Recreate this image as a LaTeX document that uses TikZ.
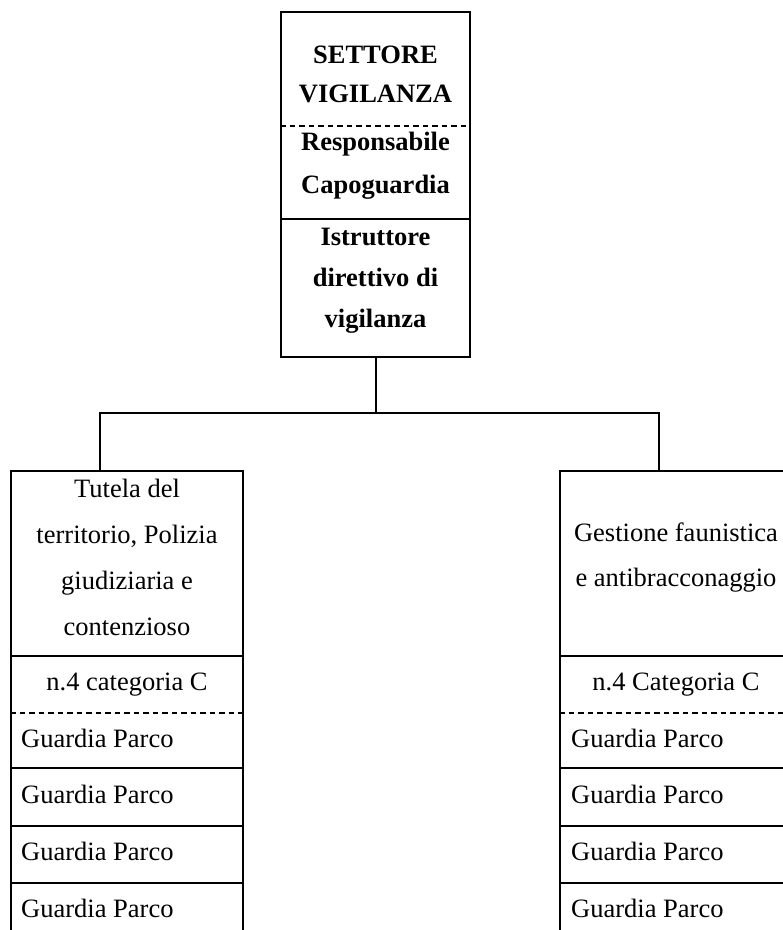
\documentclass[tikz,border=0pt]{standalone}
\usepackage{fontspec}
\setmainfont{Liberation Serif}
\begin{document}
\begin{tikzpicture}[x=1pt,y=-1pt,
  box/.style={draw, line width=2pt, inner sep=0pt},
  sep/.style={line width=2pt},
  dsep/.style={line width=2pt, dash pattern=on 5.5pt off 4pt},
  conn/.style={line width=2pt},
  t/.style={inner sep=0pt, anchor=base, font=\fontsize{26.5}{30}\selectfont},
  tb/.style={t, font=\fontsize{26.5}{30}\selectfont\bfseries},
  tl/.style={t, anchor=base west}]
\useasboundingbox (0,0) rectangle (783,930);
\clip (0,0) rectangle (783,930);
\fill[white] (0,0) rectangle (783,930);

% top box
\node[box, minimum width=189pt, minimum height=345pt] (sett) at (375.5,184.5) {};
\draw[dsep] (sett.west |- 0,126) -- (sett.east |- 0,126);
\draw[sep] (sett.west |- 0,219) -- (sett.east |- 0,219);
\node[tb] (s1) at (375.5,63) {SETTORE};
\node[tb] (s2) at (375.5,102) {VIGILANZA};
\node[tb] (s3) at (375.5,150) {Responsabile};
\node[tb] (s4) at (375.5,193) {Capoguardia};
\node[tb] (s5) at (375.5,245) {Istruttore};
\node[tb] (s6) at (375.5,286) {direttivo di};
\node[tb] (s7) at (375.5,327) {vigilanza};

% left and right boxes
\node[box, minimum width=232pt, minimum height=474pt] (lbox) at (127,708) {};
\node[box, minimum width=232pt, minimum height=474pt] (rbox) at (676,708) {};

\foreach \b in {lbox,rbox}{
  \draw[sep] (\b.west |- 0,656) -- (\b.east |- 0,656);
  \draw[dsep] (\b.west |- 0,713) -- (\b.east |- 0,713);
  \draw[sep] (\b.west |- 0,768) -- (\b.east |- 0,768);
  \draw[sep] (\b.west |- 0,826) -- (\b.east |- 0,826);
  \draw[sep] (\b.west |- 0,883) -- (\b.east |- 0,883);
}

% connectors
\coordinate (busL) at (100,413);
\coordinate (busR) at (659,413);
\draw[conn] (sett.south) -- (sett.south |- busL);
\draw[conn] (lbox.north -| busL) -- (busL) -- (busR) -- (rbox.north -| busR);

% left texts
\node[t] (l1) at (127,497) {Tutela del};
\node[t] (l2) at (127,543) {territorio, Polizia};
\node[t] (l3) at (127,589) {giudiziaria e};
\node[t] (l4) at (127,635) {contenzioso};
\node[t] (l5) at (127,690) {n.4 categoria C};
\node[tl] (lg1) at (21,747) {Guardia Parco};
\node[tl] (lg2) at (21,803) {Guardia Parco};
\node[tl] (lg3) at (21,860) {Guardia Parco};
\node[tl] (lg4) at (21,917) {Guardia Parco};

% right texts
\node[t] (r1) at (676,541) {Gestione faunistica};
\node[t] (r2) at (676,586) {e antibracconaggio};
\node[t] (r3) at (676,690) {n.4 Categoria C};
\node[tl] (rg1) at (571,747) {Guardia Parco};
\node[tl] (rg2) at (571,803) {Guardia Parco};
\node[tl] (rg3) at (571,860) {Guardia Parco};
\node[tl] (rg4) at (571,917) {Guardia Parco};
\end{tikzpicture}
\end{document}
